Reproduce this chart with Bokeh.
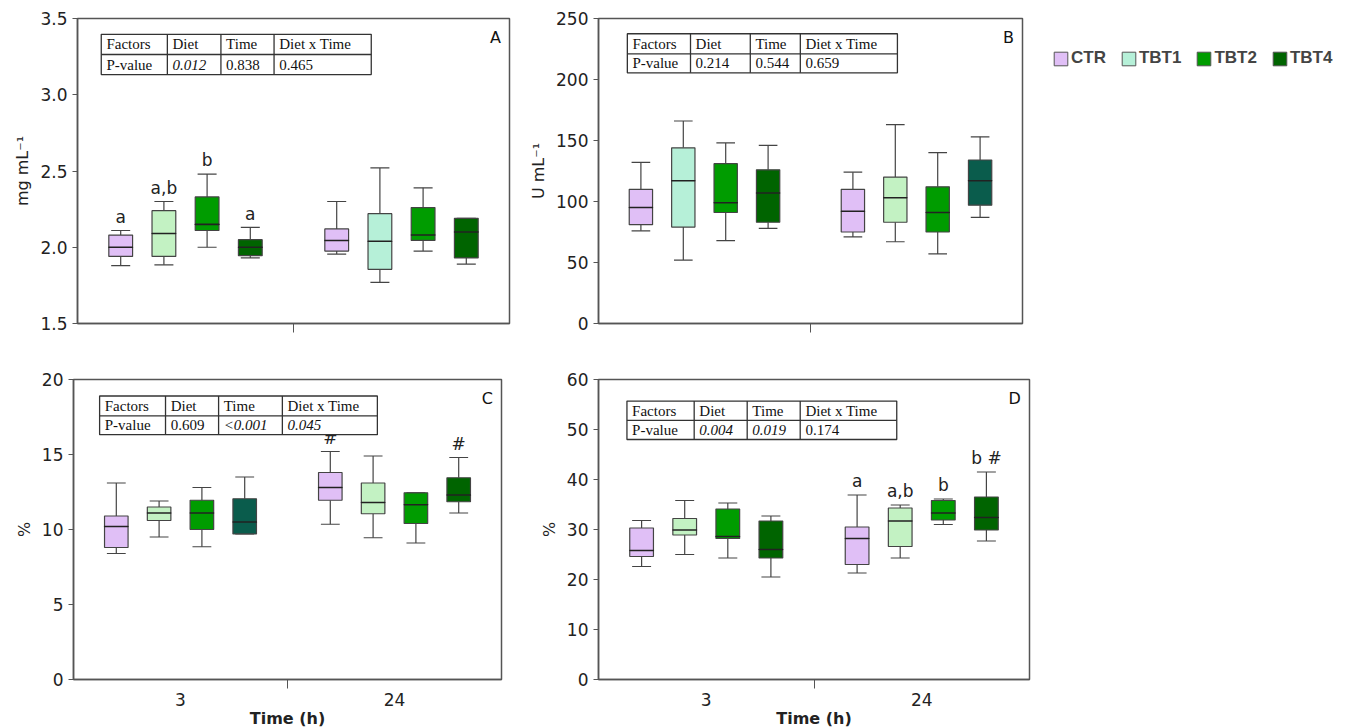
from bokeh.plotting import figure
from bokeh.models import (ColumnDataSource, FixedTicker, Label, Legend, LegendItem,
                          CustomJSTickFormatter)
from bokeh.layouts import column, row
from bokeh.core.properties import value
from bokeh.embed import file_html
from bokeh.resources import INLINE

groups = ["CTR", "TBT1", "TBT2", "TBT4"]
times = ["3", "24"]
xpos = [1, 2, 3, 4, 6, 7, 8, 9]

LAV = "#e0bff6"
LGR = "#c3f2c3"
MINT = "#b6f0d8"
GRN = "#009c00"
DGR = "#006400"
TEAL = "#0a5c4c"

# panel A: total protein (mg mL-1)
a_low = [1.88, 1.885, 2.00, 1.93, 1.955, 1.77, 1.975, 1.89]
a_q1 = [1.94, 1.94, 2.11, 1.945, 1.975, 1.855, 2.045, 1.93]
a_med = [2.00, 2.09, 2.15, 2.00, 2.045, 2.04, 2.08, 2.10]
a_q3 = [2.08, 2.24, 2.33, 2.05, 2.12, 2.22, 2.26, 2.19]
a_high = [2.11, 2.30, 2.48, 2.13, 2.30, 2.52, 2.39, 2.19]
a_sig = ["a", "a,b", "b", "a", "", "", "", ""]
a_pvals = ["0.012", "0.838", "0.465"]
a_ital = [True, False, False]

# panel B: U mL-1
b_low = [76, 52, 68, 78, 71, 67, 57, 87]
b_q1 = [81, 79, 91, 83, 75, 83, 75, 97]
b_med = [95, 117, 99, 107, 92, 103, 91, 117]
b_q3 = [110, 144, 131, 126, 110, 120, 112, 134]
b_high = [132, 166, 148, 146, 124, 163, 140, 153]
b_sig = ["", "", "", "", "", "", "", ""]
b_pvals = ["0.214", "0.544", "0.659"]
b_ital = [False, False, False]

# panel C: %
c_low = [8.4, 9.5, 8.85, 9.7, 10.35, 9.45, 9.1, 11.1]
c_q1 = [8.8, 10.6, 10.0, 9.7, 11.95, 11.05, 10.4, 11.85]
c_med = [10.2, 11.1, 11.1, 10.5, 12.8, 11.8, 11.65, 12.3]
c_q3 = [10.9, 11.5, 11.95, 12.05, 13.8, 13.1, 12.45, 13.45]
c_high = [13.1, 11.9, 12.8, 13.5, 15.2, 14.9, 12.45, 14.8]
c_sig = ["", "", "", "", "#", "", "", "#"]
c_pvals = ["0.609", "<0.001", "0.045"]
c_ital = [False, True, True]

# panel D: %
d_low = [22.6, 25.0, 24.3, 20.5, 21.3, 24.3, 31.0, 27.7]
d_q1 = [24.6, 28.9, 28.2, 24.3, 23.0, 26.6, 31.9, 29.9]
d_med = [25.8, 29.9, 28.6, 26.0, 28.2, 31.7, 33.3, 32.4]
d_q3 = [30.3, 32.2, 34.1, 31.7, 30.5, 34.3, 35.8, 36.5]
d_high = [31.8, 35.8, 35.3, 32.7, 36.9, 34.9, 36.1, 41.5]
d_sig = ["", "", "", "", "a", "a,b", "b", "b #"]
d_pvals = ["0.004", "0.019", "0.174"]
d_ital = [True, True, False]

SANS = "DejaVu Sans"
SERIF = "Liberation Serif"


def panel(letter, low, q1, med, q3, high, sig, pvals, ital, colors, yr, ystep,
          ylabel, fmt, table_x, table_y, borders, fw, fh, xlabels):
    bl, br, bt, bb = borders
    p = figure(frame_width=fw, frame_height=fh, x_range=(0, 10), y_range=yr,
               output_backend="svg", toolbar_location=None,
               min_border_left=bl, min_border_right=br, min_border_top=bt,
               min_border_bottom=bb)
    p.grid.visible = False
    p.background_fill_color = "white"
    p.outline_line_color = "#555555"
    p.outline_line_width = 1.5

    src = ColumnDataSource(dict(x=xpos, low=low, q1=q1, med=med, q3=q3, high=high,
                                color=colors, sig=sig,
                                sy=[h + (yr[1] - yr[0]) * 0.012 for h in high]))
    p.segment("x", "q3", "x", "high", source=src, line_color="#444444", line_width=1.2)
    p.segment("x", "low", "x", "q1", source=src, line_color="#444444", line_width=1.2)
    p.vbar(x="x", width=0.55, top="q3", bottom="q1", source=src,
           fill_color="color", line_color="#444444", line_width=1.2)
    p.rect(x="x", y="med", width=0.55, height=0.0001, source=src,
           line_color="#222222", line_width=1.5, fill_alpha=0)
    cap = ColumnDataSource(dict(x0=[x - 0.22 for x in xpos], x1=[x + 0.22 for x in xpos],
                                low=low, high=high))
    p.segment("x0", "high", "x1", "high", source=cap, line_color="#444444", line_width=1.2)
    p.segment("x0", "low", "x1", "low", source=cap, line_color="#444444", line_width=1.2)
    p.text(x="x", y="sy", text="sig", source=src, text_align="center",
           text_baseline="bottom", text_font=value(SANS), text_font_size="17px",
           text_color="#222222")

    # P-value table
    span = yr[1] - yr[0]
    ty = [yr[1] - f * span for f in table_y]
    tx = [f * 10 for f in table_x]
    p.quad(left=tx[0], right=tx[-1], top=ty[0], bottom=ty[2], fill_color="white",
           line_color="#333333", line_width=1.3)
    p.segment(x0=[tx[0]], y0=[ty[1]], x1=[tx[-1]], y1=[ty[1]], line_color="#333333",
              line_width=1.3)
    p.segment(x0=tx[1:4], y0=[ty[0]] * 3, x1=tx[1:4], y1=[ty[2]] * 3,
              line_color="#333333", line_width=1.3)
    heads = ["Factors", "Diet", "Time", "Diet x Time"]
    for i, h in enumerate(heads):
        p.add_layout(Label(x=tx[i] + 0.12, y=(ty[0] + ty[1]) / 2, text=h,
                           text_baseline="middle", text_font=SERIF,
                           text_font_size="15px", text_color="#111111"))
    p.add_layout(Label(x=tx[0] + 0.12, y=(ty[1] + ty[2]) / 2, text="P-value",
                       text_baseline="middle", text_font=SERIF, text_font_size="15px",
                       text_color="#111111"))
    for i, v in enumerate(pvals):
        p.add_layout(Label(x=tx[i + 1] + 0.12, y=(ty[1] + ty[2]) / 2, text=v,
                           text_baseline="middle", text_font=SERIF,
                           text_font_size="15px", text_color="#111111",
                           text_font_style="italic" if ital[i] else "normal"))
    p.add_layout(Label(x=9.8, y=yr[1] - span * 0.03, text=letter, text_align="right",
                       text_baseline="top", text_font=SANS, text_font_size="16px",
                       text_color="#111111"))

    # axes
    ticks = []
    v = yr[0]
    while v <= yr[1] + 1e-9:
        ticks.append(round(v, 3))
        v += ystep
    p.yaxis.ticker = FixedTicker(ticks=ticks, minor_ticks=[])
    p.yaxis.formatter = CustomJSTickFormatter(code="return tick.toFixed(%d);" % fmt)
    p.yaxis.axis_label = ylabel
    p.yaxis.axis_label_text_font = SANS
    p.yaxis.axis_label_text_font_style = "normal"
    p.yaxis.axis_label_text_font_size = "16px"
    p.yaxis.major_label_text_font = SANS
    p.yaxis.major_label_text_font_size = "17px"
    p.yaxis.major_tick_in = 0
    p.yaxis.major_tick_out = 5
    p.xaxis.ticker = FixedTicker(ticks=[2.5, 5, 7.5], minor_ticks=[5])
    p.xaxis.major_tick_in = 0
    p.xaxis.major_tick_out = 0
    p.xaxis.minor_tick_in = 0
    p.xaxis.minor_tick_out = 9
    p.xaxis.major_label_standoff = 4
    if xlabels:
        p.xaxis.major_label_overrides = {2.5: "3", 5: "", 7.5: "24"}
        p.xaxis.axis_label = "Time (h)"
        p.xaxis.axis_label_text_font = SANS
        p.xaxis.axis_label_text_font_style = "bold"
        p.xaxis.axis_label_text_font_size = "16px"
        p.xaxis.axis_label_standoff = 0
    else:
        p.xaxis.major_label_overrides = {2.5: "", 5: "", 7.5: ""}
        p.xaxis.major_label_standoff = 0
    p.xaxis.major_label_text_font = SANS
    p.xaxis.major_label_text_font_size = "17px"
    for ax in (p.xaxis, p.yaxis):
        ax.axis_line_color = "#555555"
        ax.major_tick_line_color = "#555555"
        ax.minor_tick_line_color = "#555555"
        ax.axis_line_width = 1.5
        ax.major_label_text_color = "#222222"
        ax.axis_label_text_color = "#222222"
    return p


pa = panel("A", a_low, a_q1, a_med, a_q3, a_high, a_sig, a_pvals, a_ital,
           [LAV, LGR, GRN, DGR, LAV, MINT, GRN, DGR], (1.5, 3.5), 0.5, "mg mL⁻¹", 1,
           [0.055, 0.208, 0.332, 0.455, 0.68], [0.052, 0.118, 0.184],
           (77, 10, 18, 18), 432, 305, False)
pb = panel("B", b_low, b_q1, b_med, b_q3, b_high, b_sig, b_pvals, b_ital,
           [LAV, MINT, GRN, DGR, LAV, LGR, GRN, TEAL], (0, 250), 50, "U mL⁻¹", 0,
           [0.068, 0.217, 0.358, 0.476, 0.705], [0.05, 0.116, 0.178],
           (79, 306, 18, 18), 424, 305, False)
pc = panel("C", c_low, c_q1, c_med, c_q3, c_high, c_sig, c_pvals, c_ital,
           [LAV, LGR, GRN, TEAL, LAV, LGR, GRN, DGR], (0, 20), 5, "%", 0,
           [0.061, 0.215, 0.339, 0.488, 0.71], [0.055, 0.121, 0.184],
           (73, 10, 38, 42), 428, 300, True)
pd_ = panel("D", d_low, d_q1, d_med, d_q3, d_high, d_sig, d_pvals, d_ital,
            [LAV, LGR, GRN, DGR, LAV, LGR, GRN, DGR], (0, 60), 10, "%", 0,
            [0.066, 0.222, 0.345, 0.468, 0.692], [0.072, 0.136, 0.20],
            (87, 10, 38, 42), 431, 300, True)

# legend
items = []
for g, c in zip(groups, [LAV, MINT, GRN, DGR]):
    r = pb.quad(left=[-100], right=[-99], top=[-100], bottom=[-101], fill_color=c,
                line_color="#555555")
    items.append(LegendItem(label=g, renderers=[r]))
leg = Legend(items=items, orientation="horizontal", location="top_left",
             label_text_font="Liberation Sans", label_text_font_style="bold",
             label_text_font_size="17px", border_line_alpha=0, glyph_width=17,
             glyph_height=17, spacing=14, label_standoff=2, margin=30, padding=0)
pb.add_layout(leg, "right")

layout = column(row(pa, pb), row(pc, pd_))
open("out.html", "w").write(file_html(layout, INLINE))
